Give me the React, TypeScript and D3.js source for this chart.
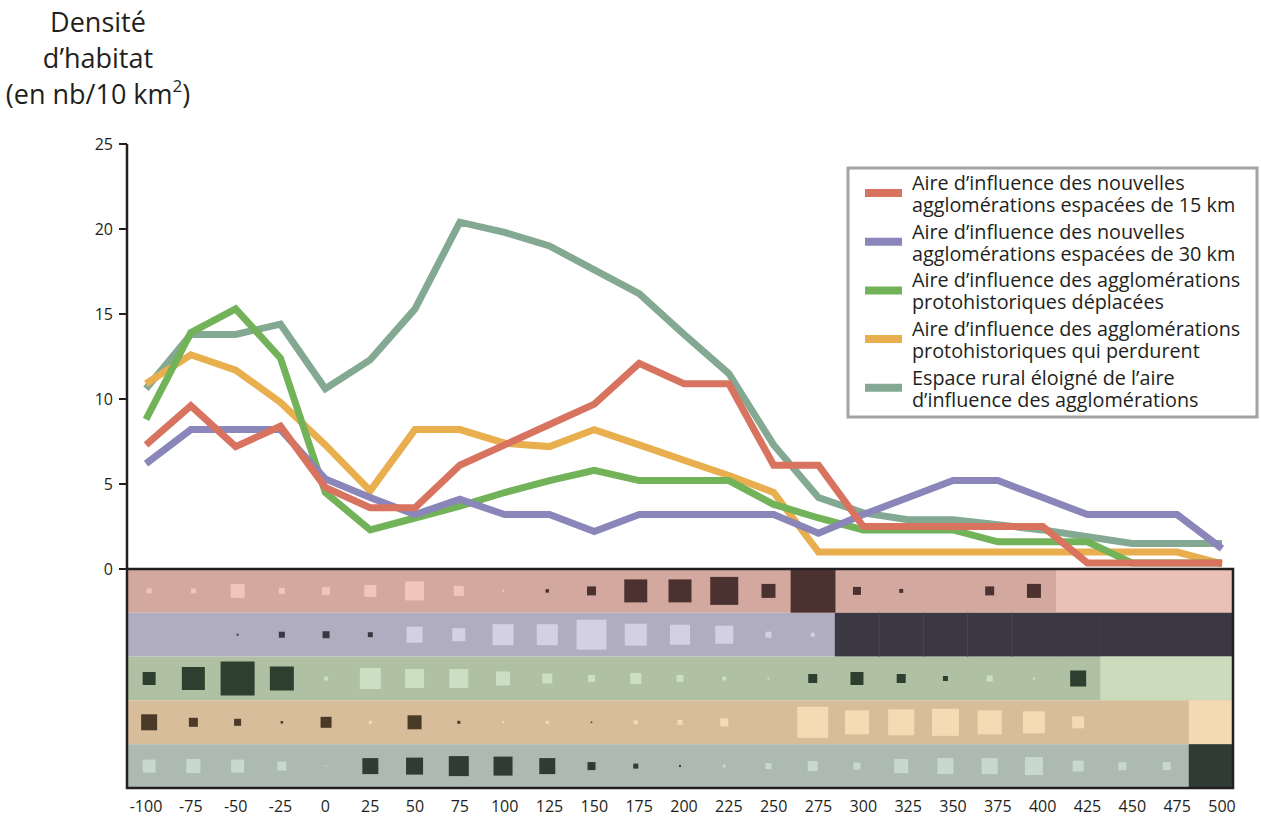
import React from 'react';
import * as d3 from 'd3';

// ---------- DATA ----------
const distances = [-100, -75, -50, -25, 0, 25, 50, 75, 100, 125, 150, 175, 200, 225, 250, 275, 300, 325, 350, 375, 400, 425, 450, 475, 500];
const yTicks = [0, 5, 10, 15, 20, 25];

const seriesNames = [
  ['Aire d\u2019influence des nouvelles', 'agglomérations espacées de 15 km'],
  ['Aire d\u2019influence des nouvelles', 'agglomérations espacées de 30 km'],
  ['Aire d\u2019influence des agglomérations', 'protohistoriques déplacées'],
  ['Aire d\u2019influence des agglomérations', 'protohistoriques qui perdurent'],
  ['Espace rural éloigné de l\u2019aire', 'd\u2019influence des agglomérations'],
];

const nouvelles15 = [7.3, 9.6, 7.2, 8.4, 4.8, 3.6, 3.6, 6.1, 7.3, 8.5, 9.7, 12.1, 10.9, 10.9, 6.1, 6.1, 2.5, 2.5, 2.5, 2.5, 2.5, 0.35, 0.35, 0.35, 0.35];
const nouvelles30 = [6.2, 8.2, 8.2, 8.2, 5.3, 4.2, 3.2, 4.1, 3.2, 3.2, 2.2, 3.2, 3.2, 3.2, 3.2, 2.1, 3.2, 4.2, 5.2, 5.2, 4.2, 3.2, 3.2, 3.2, 1.2];
const deplacees = [8.8, 13.9, 15.3, 12.4, 4.5, 2.3, 3.0, 3.7, 4.5, 5.2, 5.8, 5.2, 5.2, 5.2, 3.8, 3.0, 2.3, 2.3, 2.3, 1.6, 1.6, 1.6, 0.35, 0.35, 0.35];
const perdurent = [10.9, 12.6, 11.7, 9.8, 7.3, 4.6, 8.2, 8.2, 7.4, 7.2, 8.2, 7.3, 6.4, 5.5, 4.5, 1.0, 1.0, 1.0, 1.0, 1.0, 1.0, 1.0, 1.0, 1.0, 0.3];
const rural = [10.6, 13.8, 13.8, 14.4, 10.6, 12.3, 15.3, 20.4, 19.8, 19.0, 17.6, 16.2, 13.8, 11.5, 7.3, 4.2, 3.3, 2.9, 2.9, 2.6, 2.3, 1.9, 1.5, 1.5, 1.5];

// matrix rows: positive = dark square, negative = light square, 'D' full dark cell, 'L' full light cell
const row15: (number | string)[] = [-5, -5, -14, -6, -8, -12, -19, -10, -2, 3.5, 9, 23, 23, 28, 14, 'D', 8, 4, 0, 9, 14, 'L', 'L', 'L', 'L'];
const row30: (number | string)[] = [0, 0, 2, 6, 7, 5, -16, -13, -21, -21, -30, -22, -20, -18, -6, -4, 'D', 'D', 'D', 'D', 'D', 'D', 'D', 'D', 'D'];
const rowDepl: (number | string)[] = [13, 23, 34, 24, -4, -21, -19, -19, -14, -10, -7, -11, -7, -4, -2, 9, 13, 9, 5, -6, -2, 16, 'L', 'L', 'L'];
const rowPerd: (number | string)[] = [16, 9, 7, 2.5, 11, -3, 14, 3, -2, -3, 1.5, -4, -5, -8, 0, -31, -24, -26, -27, -24, -22, -12, 0, 0, 'L'];
const rowRural: (number | string)[] = [-13, -14, -13, -9, -1.5, 16, 17, 20, 19, 16, 8, 5, 2, -3, -6, -10, -7, -14, -16, -16, -18, -11, -8, -8, 'D'];
const separators30 = [325, 350, 375, 400];

const lineColors = ['#d8735f', '#8a86b9', '#72b35a', '#e9ae4d', '#84a993'];
const bandBg = ['#d3a99f', '#b1adc0', '#afc0a3', '#d8bd9b', '#adbab2'];
const bandLight = ['#efc6b9', '#d2d0e1', '#cddfc3', '#f5dbb4', '#c9d8ce'];
const bandFullLight = ['#e9c1b5', '#d2d0e1', '#cbdcbd', '#f4dab3', '#c9d8ce'];
const bandDark = ['#4b3230', '#3b3844', '#2f3f2f', '#4a3a28', '#2f3b33'];

const FONT = '"Open Sans", "Noto Sans", sans-serif';

export default function App() {
  const W = 1261, H = 820;
  const boxL = 127, boxR = 1233, boxT = 569, boxB = 788;

  const y = d3.scaleLinear().domain([0, 25]).range([569, 144]);
  const xLine = d3.scaleLinear().domain([-100, 500]).range([146, 1222]);
  const xCol = d3.scaleBand<number>().domain(distances).range([boxL, boxR]).paddingInner(0);
  const bw = xCol.bandwidth();
  const rowsY = d3.scaleBand<number>().domain([0, 1, 2, 3, 4]).range([boxT, boxB]);
  const bh = rowsY.bandwidth();
  const side = d3.scaleLinear().domain([0, 35]).range([0, 35]);

  const series = [nouvelles15, nouvelles30, deplacees, perdurent, rural];
  const rows = [row15, row30, rowDepl, rowPerd, rowRural];
  const drawOrder = [4, 3, 2, 1, 0];

  const line = d3.line<number>().x((_, i) => xLine(distances[i])).y((v) => y(v));

  return (
    <svg width={W} height={H} style={{ position: 'absolute', left: 0, top: 0, background: '#fff' }} fontFamily={FONT}>
      <rect x={0} y={0} width={W} height={H} fill="#fff" />
      {/* title */}
      <g fontSize={27} fill="#231f20" textAnchor="middle">
        <text x={98} y={32}>Densité</text>
        <text x={98} y={68}>d{'\u2019'}habitat</text>
        <text x={98} y={104}>(en nb/10 km<tspan fontSize={17} dy={-12}>2</tspan><tspan dy={12}>)</tspan></text>
      </g>

      {/* matrix bands */}
      {rows.map((row, r) => (
        <g key={'band' + r}>
          <rect x={boxL} y={rowsY(r)!} width={boxR - boxL} height={bh} fill={bandBg[r]} />
          {row.map((v, i) => {
            const cx = xCol(distances[i])! + bw / 2;
            const cy = rowsY(r)! + bh / 2;
            if (v === 'D' || v === 'L') {
              return (
                <rect key={i} x={xCol(distances[i])!} y={rowsY(r)!} width={bw + 0.6} height={bh}
                  fill={v === 'D' ? bandDark[r] : bandFullLight[r]} />
              );
            }
            const n = v as number;
            if (n === 0) return null;
            const s = side(Math.abs(n));
            return <rect key={i} x={cx - s / 2} y={cy - s / 2} width={s} height={s} fill={n > 0 ? bandDark[r] : bandLight[r]} />;
          })}
        </g>
      ))}
      {separators30.map((d) => (
        <line key={'sep' + d} x1={xCol(d)!} x2={xCol(d)!} y1={rowsY(1)!} y2={rowsY(1)! + bh} stroke="#4a4756" strokeWidth={1} />
      ))}
      <rect x={boxL} y={boxT} width={boxR - boxL} height={boxB - boxT} fill="none" stroke="#231f20" strokeWidth={2.5} />

      {/* y axis */}
      <line x1={boxL} x2={boxL} y1={y(25)} y2={y(0)} stroke="#231f20" strokeWidth={2.5} />
      {yTicks.map((t) => (
        <g key={'yt' + t}>
          <line x1={boxL - 8} x2={boxL} y1={y(t)} y2={y(t)} stroke="#231f20" strokeWidth={2} />
          <text x={boxL - 14} y={y(t) + 5.5} fontSize={16} textAnchor="end" fill="#231f20">{t}</text>
        </g>
      ))}

      {/* x labels */}
      {distances.map((d) => (
        <text key={'xl' + d} x={xLine(d)} y={812} fontSize={16} textAnchor="middle" fill="#231f20">{d}</text>
      ))}

      {/* lines */}
      {drawOrder.map((k) => (
        <path key={'line' + k} d={line(series[k]) || ''} fill="none" stroke={lineColors[k]} strokeWidth={7} strokeLinejoin="miter" />
      ))}

      {/* legend */}
      <rect x={848} y={168} width={409} height={249} fill="#fff" stroke="#a3a3a3" strokeWidth={3} />
      {seriesNames.map((lines, k) => {
        const top = 190 + k * 48.7;
        return (
          <g key={'lg' + k}>
            <line x1={865} x2={902} y1={top + 3} y2={top + 3} stroke={lineColors[k]} strokeWidth={8} />
            <text x={912} y={top} fontSize={19.8} fill="#231f20">{lines[0]}</text>
            <text x={912} y={top + 22} fontSize={19.8} fill="#231f20">{lines[1]}</text>
          </g>
        );
      })}
    </svg>
  );
}
